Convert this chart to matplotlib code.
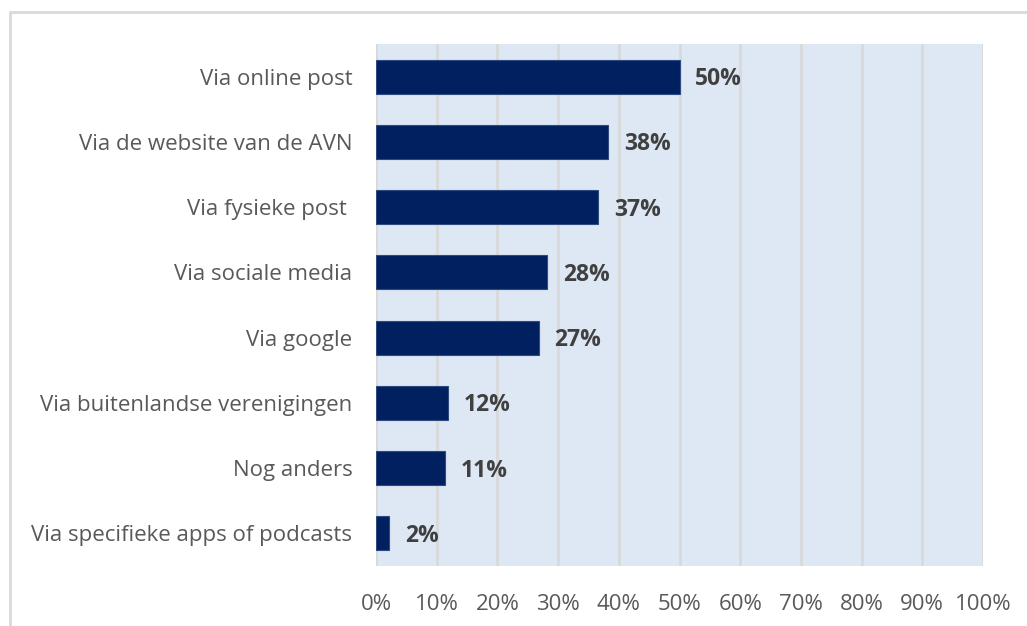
import matplotlib.pyplot as plt
from matplotlib.patches import Rectangle

categories = ['Via online post', 'Via de website van de AVN', 'Via fysieke post ',
              'Via sociale media', 'Via google', 'Via buitenlandse verenigingen',
              'Nog anders', 'Via specifieke apps of podcasts']
values = [50.0, 38.3, 36.6, 28.2, 26.8, 11.8, 11.3, 2.2]
xticks = list(range(0, 101, 10))

plt.rcParams['font.family'] = ['Open Sans', 'DejaVu Sans']

fig = plt.figure(figsize=(10.27, 6.26), dpi=100)
fig.patches.append(Rectangle((10 / 1027, -0.1), 1.2, (626 - 12) / 626 + 0.1,
                             transform=fig.transFigure, fill=False,
                             edgecolor='#d9d9d9', linewidth=2))
ax = fig.add_axes([376 / 1027, 60 / 626, 607 / 1027, 522 / 626])
ax.set_facecolor('#dde8f4')

y = list(range(len(categories)))
ax.barh(y, values, height=0.52, color='#002060', edgecolor='#2e4a80', linewidth=0.8, zorder=3)
for yi, v in zip(y, values):
    ax.text(v + 2.6, yi + 0.04, f'{round(v)}%', va='center', ha='left', fontsize=16.5,
            fontweight='bold', color='#404040', zorder=4)

ax.set_ylim(len(categories) - 0.5, -0.5)
ax.set_xlim(0, 100)
ax.set_yticks(y)
ax.set_yticklabels(categories, fontsize=16, color='#595959')
ax.set_xticks(xticks)
ax.set_xticklabels([f'{t}%' for t in xticks], fontsize=16, color='#595959')
ax.tick_params(length=0, axis='y', pad=17)
ax.tick_params(length=0, axis='x', pad=20)
ax.grid(axis='x', color='#d9d9d9', linewidth=2, zorder=1)
ax.set_axisbelow(True)
for s in ax.spines.values():
    s.set_visible(False)

fig.savefig('out.png', dpi=100)
